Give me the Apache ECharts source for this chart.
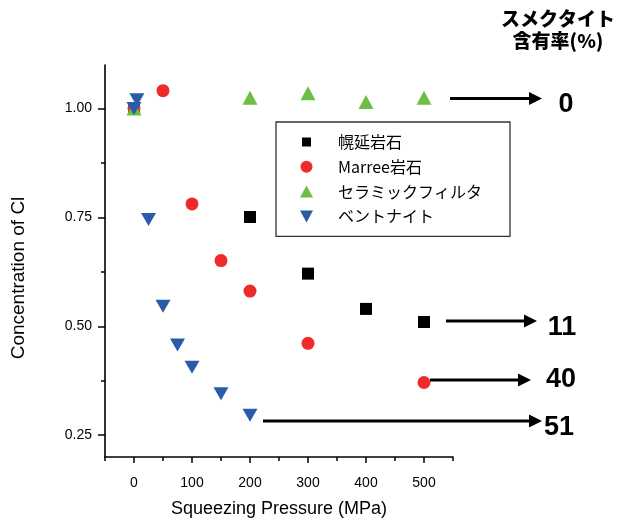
<!DOCTYPE html>
<html>
<head>
<meta charset="utf-8">
<style>html,body{margin:0;padding:0;background:#fff;}#chart{width:625px;height:526px;}</style>
<script src="https://cdn.jsdelivr.net/npm/echarts/dist/echarts.min.js"></script>
</head>
<body>
<div id="chart"></div>
<script>
// ---- data ----
const seriesNames = ['幌延岩石', 'Marree岩石', 'セラミックフィルタ', 'ベントナイト'];
const horonobe  = [[0, 1.00], [200, 0.751], [300, 0.621], [400, 0.540], [500, 0.510]];
const marree    = [[0, 1.00], [50, 1.041], [100, 0.781], [150, 0.651], [200, 0.581], [300, 0.461], [500, 0.371]];
const ceramic   = [[0, 1.00], [200, 1.025], [300, 1.035], [400, 1.015], [500, 1.025]];
const bentonite = [[0, 1.00], [5, 1.02], [25, 0.745], [50, 0.546], [75, 0.457], [100, 0.406], [150, 0.345], [200, 0.296]];
const xMajorTicks = [0, 100, 200, 300, 400, 500];
const xMinorTicks = [-50, 50, 150, 250, 350, 450, 550];
const yMajorTicks = [0.25, 0.50, 0.75, 1.00];
const yMinorTicks = [0.375, 0.625, 0.875];
const smectiteTitle = ['スメクタイト', '含有率(%)'];
const smectiteLabels = ['0', '11', '40', '51'];

// ---- chart ----
const LATIN = "'Liberation Sans', Arial, sans-serif";
const JP = "'Noto Sans CJK JP', 'Liberation Sans', sans-serif";
const chart = echarts.init(document.getElementById('chart'), null, {renderer: 'canvas'});

const axisLine = {show: true, onZero: false, lineStyle: {color: '#000', width: 1.6}};

function arrow(x1, x2, y) {
  const headLen = 13, half = 6.5;
  return [
    {type: 'line', shape: {x1: x1, y1: y, x2: x2 - headLen + 1, y2: y}, style: {stroke: '#000', lineWidth: 3}, z: 10},
    {type: 'polygon', shape: {points: [[x2 - headLen, y - half], [x2, y], [x2 - headLen, y + half]]}, style: {fill: '#000'}, z: 10}
  ];
}
function bigLabel(text, x, y) {
  return {type: 'text', x: x, y: y, z: 10,
    style: {text: text, fill: '#000', font: "bold 27px 'Liberation Sans', Arial, sans-serif", textAlign: 'center', textVerticalAlign: 'middle'}};
}

const graphics = [].concat(
  arrow(450, 542, 98.5),  [bigLabel(smectiteLabels[0], 566, 105)],
  arrow(446, 537, 321),   [bigLabel(smectiteLabels[1], 562, 328)],
  arrow(430, 531, 380),   [bigLabel(smectiteLabels[2], 561, 380)],
  arrow(263, 542, 421),   [bigLabel(smectiteLabels[3], 559, 428)],
  [
    {type: 'text', x: 558, y: 19, style: {text: smectiteTitle[0], fill: '#000', font: "900 19px 'Noto Sans CJK JP', sans-serif", textAlign: 'center', textVerticalAlign: 'middle'}},
    {type: 'text', x: 558, y: 41, style: {text: smectiteTitle[1], fill: '#000', font: "900 19px 'Noto Sans CJK JP', sans-serif", textAlign: 'center', textVerticalAlign: 'middle'}}
  ]
);

const option = {
  backgroundColor: '#fff',
  animation: false,
  grid: {left: 105, top: 65, right: 172, bottom: 69, containLabel: false},
  legend: {
    orient: 'vertical', left: 276, top: 122,
    padding: [12, 28, 12, 24], itemGap: 8.8, itemWidth: 13, itemHeight: 12,
    borderColor: '#333', borderWidth: 1.3, backgroundColor: '#fff',
    textStyle: {fontSize: 16, fontFamily: JP, color: '#000', lineHeight: 16, padding: [0, 0, 0, 20]},
    data: [
      {name: seriesNames[0], icon: 'path://M0,0M13,12M2,1.5h9v9h-9z'},
      {name: seriesNames[1], icon: 'circle'},
      {name: seriesNames[2], icon: 'triangle'},
      {name: seriesNames[3], icon: 'path://M0,0L13,0L6.5,12Z'}
    ]
  },
  xAxis: [
    {
      type: 'value', min: -50, max: 550,
      name: 'Squeezing Pressure (MPa)', nameLocation: 'middle', nameGap: 43,
      nameTextStyle: {fontSize: 18, fontFamily: LATIN, color: '#000'},
      axisLine: axisLine,
      axisTick: {show: true, length: 6, customValues: xMajorTicks, lineStyle: {color: '#000', width: 1.5}},
      axisLabel: {customValues: xMajorTicks, fontSize: 14, fontFamily: LATIN, color: '#000', margin: 19},
      splitLine: {show: false}
    },
    {
      type: 'value', min: -50, max: 550, position: 'bottom', offset: 0,
      axisLine: {show: false, onZero: false},
      axisTick: {show: true, length: 4, customValues: xMinorTicks, lineStyle: {color: '#000', width: 1.5}},
      axisLabel: {show: false},
      splitLine: {show: false}
    }
  ],
  yAxis: [
    {
      type: 'value', min: 0.2, max: 1.1,
      name: 'Concentration of Cl', nameLocation: 'middle', nameGap: 77,
      nameTextStyle: {fontSize: 19, fontFamily: LATIN, color: '#000', padding: [0, 34, 0, 0]},
      axisLine: axisLine,
      axisTick: {show: true, length: 7, customValues: yMajorTicks, lineStyle: {color: '#000', width: 1.5}},
      axisLabel: {customValues: yMajorTicks, fontSize: 14, fontFamily: LATIN, color: '#000', margin: 13,
        formatter: v => v.toFixed(2)},
      splitLine: {show: false}
    },
    {
      type: 'value', min: 0.2, max: 1.1, position: 'left', offset: 0,
      axisLine: {show: false, onZero: false},
      axisTick: {show: true, length: 4, customValues: yMinorTicks, lineStyle: {color: '#000', width: 1.5}},
      axisLabel: {show: false},
      splitLine: {show: false}
    }
  ],
  series: [
    {name: seriesNames[0], type: 'scatter', data: horonobe, symbol: 'rect', symbolSize: 12,
      itemStyle: {color: '#000000', opacity: 1}},
    {name: seriesNames[1], type: 'scatter', data: marree, symbol: 'circle', symbolSize: 13,
      itemStyle: {color: '#EE2A2A', opacity: 1}},
    {name: seriesNames[2], type: 'scatter', data: ceramic, symbol: 'triangle', symbolSize: [15, 14],
      itemStyle: {color: '#6CBE45', opacity: 1}},
    {name: seriesNames[3], type: 'scatter', data: bentonite, symbol: 'path://M0,0L15,0L7.5,13Z', symbolKeepAspect: false, symbolSize: [15, 13],
      itemStyle: {color: '#2A5BA8', opacity: 1}}
  ],
  graphic: graphics
};
chart.setOption(option);
</script>
</body>
</html>
